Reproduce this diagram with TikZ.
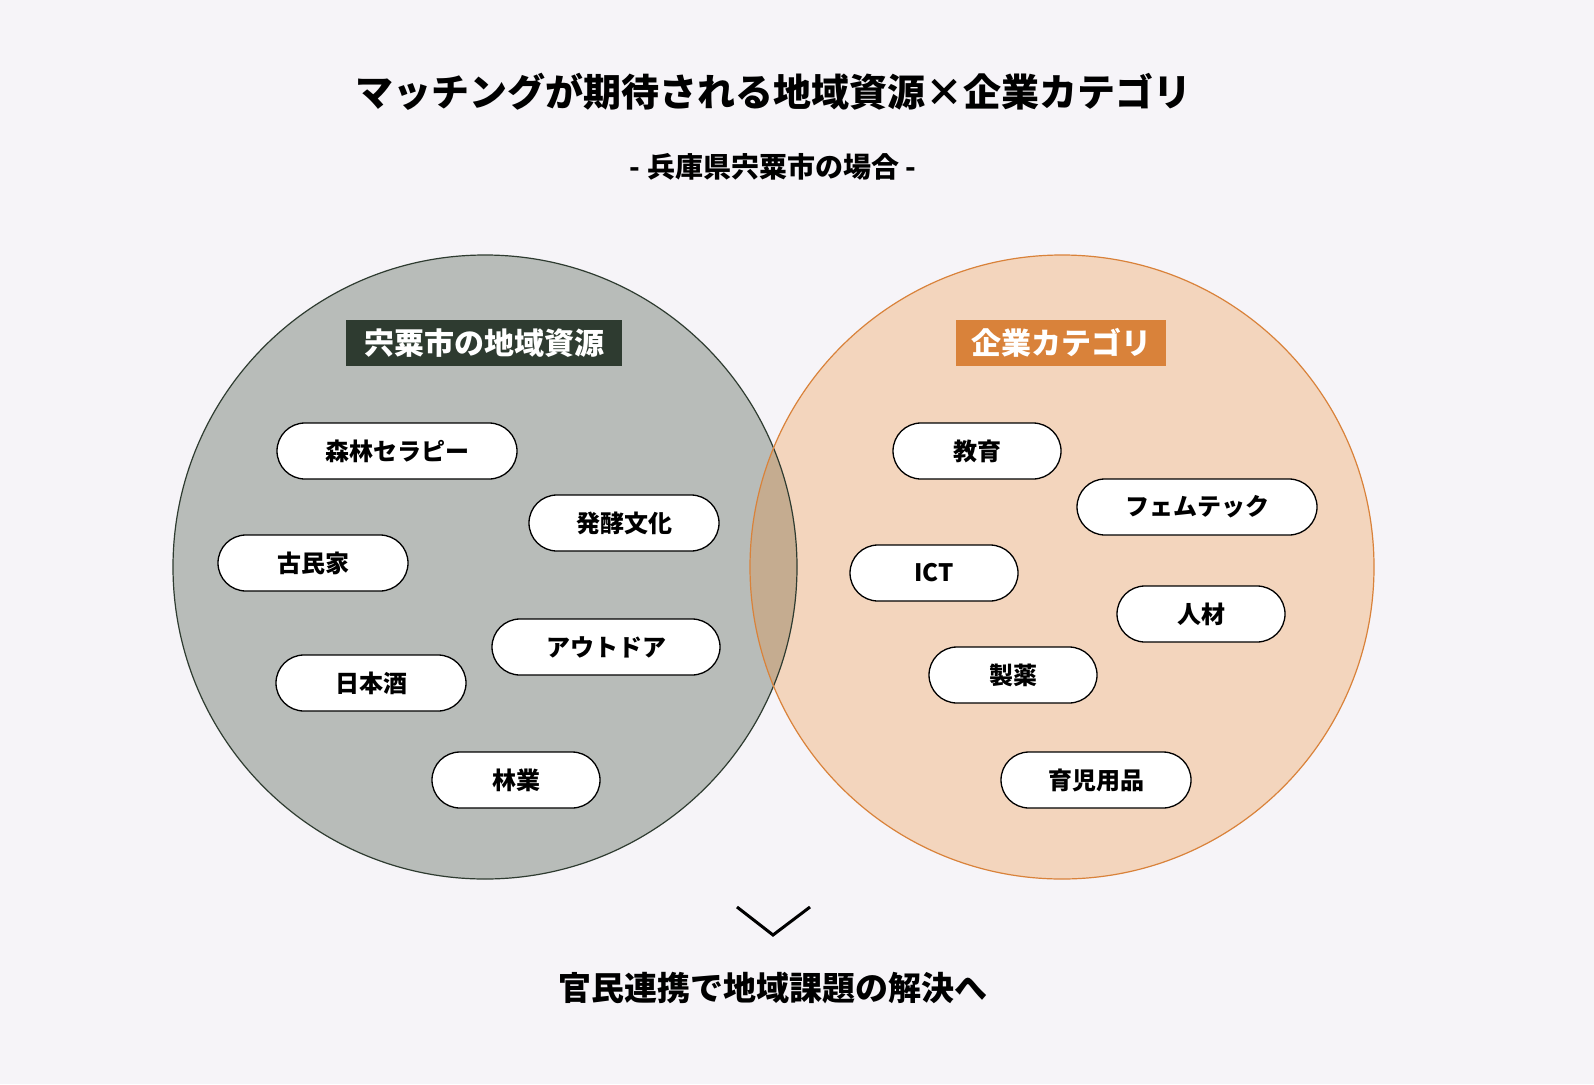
\documentclass[tikz,border=0pt]{standalone}
\usepackage{fontspec}
\setmainfont{Noto Sans CJK JP}
\definecolor{bg}{HTML}{F6F4F8}
\definecolor{dk}{HTML}{2E3B30}
\definecolor{lg}{HTML}{B8BCB9}
\definecolor{org}{HTML}{D9823A}
\definecolor{pch}{HTML}{F3D5BD}
\definecolor{ovl}{HTML}{C5AC90}
\tikzset{x=1pt,y=-1pt,
 pill/.style={draw=black,line width=1.3pt,fill=white,rounded corners=28pt,minimum height=56pt,font=\fontsize{24}{24}\selectfont\bfseries,inner sep=0pt},
 hdr/.style={text=white,minimum height=46pt,inner sep=0pt,font=\fontsize{30}{30}\selectfont\bfseries}}
\begin{document}
\begin{tikzpicture}
\fill[bg] (0,0) rectangle (1594,1084);
\useasboundingbox (0,0) rectangle (1594,1084);
\fill[lg] (485,567) circle (312);
\fill[pch] (1062,567) circle (312);
\begin{scope}
\clip (485,567) circle (312);
\fill[ovl] (1062,567) circle (312);
\end{scope}
\draw[dk,line width=1.2pt] (485,567) circle (312);
\draw[org,line width=1.2pt] (1062,567) circle (312);
\node[font=\fontsize{38}{38}\selectfont\bfseries] (t) at (773,92) {マッチングが期待される地域資源×企業カテゴリ};
\node[font=\fontsize{28}{28}\selectfont\bfseries] (s) at (773,167) {- 兵庫県宍粟市の場合 -};
\node[hdr,fill=dk,minimum width=276pt] (h1) at (484,343) {宍粟市の地域資源};
\node[hdr,fill=org,minimum width=210pt] (h2) at (1061,343) {企業カテゴリ};
\node[pill,minimum width=240pt] (a1) at (397,451) {森林セラピー};
\node[pill,minimum width=190pt] (a2) at (624,523) {発酵文化};
\node[pill,minimum width=190pt] (a3) at (313,563) {古民家};
\node[pill,minimum width=228pt] (a4) at (606,647) {アウトドア};
\node[pill,minimum width=190pt] (a5) at (371,683) {日本酒};
\node[pill,minimum width=168pt] (a6) at (516,780) {林業};
\node[pill,minimum width=168pt] (b1) at (977,451) {教育};
\node[pill,minimum width=240pt] (b2) at (1197,507) {フェムテック};
\node[pill,minimum width=168pt] (b3) at (934,573) {ICT};
\node[pill,minimum width=168pt] (b4) at (1201,614) {人材};
\node[pill,minimum width=168pt] (b5) at (1013,675) {製薬};
\node[pill,minimum width=190pt] (b6) at (1096,780) {育児用品};
\coordinate (c1) at (737,907); \coordinate (c2) at (773,935); \coordinate (c3) at (810,907);
\draw[line width=3pt] (c1) -- (c2) -- (c3);
\node[font=\fontsize{33}{33}\selectfont\bfseries] (f) at (773,988) {官民連携で地域課題の解決へ};
\end{tikzpicture}
\end{document}
